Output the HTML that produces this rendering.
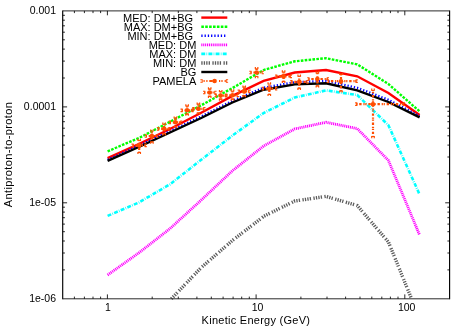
<!DOCTYPE html>
<html><head><meta charset="utf-8"><title>Antiproton-to-proton</title>
<style>html,body{margin:0;padding:0;background:#fff;}body{width:465px;height:326px;overflow:hidden;font-family:"Liberation Sans",sans-serif;}</style>
</head><body>
<svg width="465" height="326" viewBox="0 0 465 326" style="display:block;font-family:'Liberation Sans',sans-serif;font-size:11px">
<rect x="0" y="0" width="465" height="326" fill="#fff"/>
<polyline points="107.6,158.2 138.8,144.2 170.0,129.0 201.2,112.7 232.4,95.9 263.6,80.9 294.8,72.5 326.0,70.0 357.2,76.3 388.4,93.0 419.6,114.9" fill="none" stroke="#ff0000" stroke-width="2.4"/>
<polyline points="107.6,151.3 138.8,138.1 170.0,121.8 201.2,105.3 232.4,88.1 263.6,70.0 294.8,61.3 326.0,58.2 357.2,64.3 388.4,84.0 419.6,111.4" fill="none" stroke="#00ff00" stroke-width="2.4" stroke-dasharray="2.60 1.30"/>
<polyline points="107.6,159.8 138.8,145.8 170.0,131.2 201.2,116.5 232.4,100.9 263.6,87.8 294.8,82.2 326.0,80.9 357.2,87.8 388.4,99.8 419.6,116.2" fill="none" stroke="#0000ff" stroke-width="2.4" stroke-dasharray="1.30 1.95"/>
<polyline points="107.6,275.0 138.8,252.9 170.0,228.6 201.2,200.1 232.4,170.8 263.6,146.0 294.8,128.9 326.0,122.3 357.2,128.6 388.4,160.4 419.6,235.0" fill="none" stroke="#ff00ff" stroke-width="2.8" stroke-dasharray="1.1 0.8"/>
<polyline points="107.6,215.9 138.8,202.5 170.0,184.3 201.2,159.8 232.4,135.6 263.6,113.0 294.8,97.5 326.0,90.4 357.2,95.0 388.4,125.2 419.6,194.5" fill="none" stroke="#00ffff" stroke-width="2.6" stroke-dasharray="3.90 1.30 0.65 1.30"/>
<polyline points="171.3,298.8 201.2,267.6 232.4,240.5 263.6,216.4 294.8,201.0 326.0,196.4 357.2,205.5 388.4,242.0 411.6,298.8" fill="none" stroke="#5c5c5c" stroke-width="3.4" stroke-dasharray="1.3 1.15 1.3 1.15 1.3 1.15 1.3 2.45"/>
<polyline points="107.6,160.8 138.8,147.0 170.0,132.5 201.2,118.0 232.4,102.5 263.6,89.7 294.8,84.4 326.0,83.3 357.2,90.3 388.4,102.0 419.6,117.4" fill="none" stroke="#000" stroke-width="2.4"/>
<path d="M139.2,153.0V139.9M132.6,145.4H145.7M151.9,142.6V130.5M145.7,136.0H157.5M164.1,134.3V123.6M158.1,128.8H169.5M175.4,127.1V117.5M169.8,122.3H181.3M187.1,114.7V105.3M181.6,110.3H192.6M198.4,113.6V103.6M193.3,108.8H204.4M209.7,96.9V88.4M204.1,92.5H215.5M220.7,99.7V91.0M215.5,95.6H226.0M232.5,99.7V90.4M226.2,95.3H238.0M244.2,96.2V86.6M238.7,91.4H249.7M256.6,77.1V68.1M250.4,72.5H262.8M269.3,95.0V83.3M262.8,88.6H276.2M283.6,82.0V71.3M276.2,76.4H290.9M299.2,88.8V75.7M291.3,81.9H307.5M317.4,86.5V72.4M308.3,79.0H327.9M341.0,91.5V74.0M327.9,81.2H356.7M373.0,137.1V89.7M356.2,104.2H404.0" fill="none" stroke="#ff4d00" stroke-width="2.2" stroke-dasharray="1.2 1.8 2.4 1.8 1.2 0.75"/>
<path d="M137.95,138.80v2.2M140.45,138.80v2.2M137.95,151.90v2.2M140.45,151.90v2.2M131.50,144.15h2.2M131.50,146.65h2.2M144.60,144.15h2.2M144.60,146.65h2.2M150.65,129.40v2.2M153.15,129.40v2.2M150.65,141.50v2.2M153.15,141.50v2.2M144.60,134.75h2.2M144.60,137.25h2.2M156.40,134.75h2.2M156.40,137.25h2.2M162.85,122.50v2.2M165.35,122.50v2.2M162.85,133.20v2.2M165.35,133.20v2.2M157.00,127.55h2.2M157.00,130.05h2.2M168.40,127.55h2.2M168.40,130.05h2.2M174.15,116.40v2.2M176.65,116.40v2.2M174.15,126.00v2.2M176.65,126.00v2.2M168.70,121.05h2.2M168.70,123.55h2.2M180.20,121.05h2.2M180.20,123.55h2.2M185.85,104.20v2.2M188.35,104.20v2.2M185.85,113.60v2.2M188.35,113.60v2.2M180.50,109.05h2.2M180.50,111.55h2.2M191.50,109.05h2.2M191.50,111.55h2.2M197.15,102.50v2.2M199.65,102.50v2.2M197.15,112.50v2.2M199.65,112.50v2.2M192.20,107.55h2.2M192.20,110.05h2.2M203.30,107.55h2.2M203.30,110.05h2.2M208.45,87.30v2.2M210.95,87.30v2.2M208.45,95.80v2.2M210.95,95.80v2.2M203.00,91.25h2.2M203.00,93.75h2.2M214.40,91.25h2.2M214.40,93.75h2.2M219.45,89.90v2.2M221.95,89.90v2.2M219.45,98.60v2.2M221.95,98.60v2.2M214.40,94.35h2.2M214.40,96.85h2.2M224.90,94.35h2.2M224.90,96.85h2.2M231.25,89.30v2.2M233.75,89.30v2.2M231.25,98.60v2.2M233.75,98.60v2.2M225.10,94.05h2.2M225.10,96.55h2.2M236.90,94.05h2.2M236.90,96.55h2.2M242.95,85.50v2.2M245.45,85.50v2.2M242.95,95.10v2.2M245.45,95.10v2.2M237.60,90.15h2.2M237.60,92.65h2.2M248.60,90.15h2.2M248.60,92.65h2.2M255.35,67.00v2.2M257.85,67.00v2.2M255.35,76.00v2.2M257.85,76.00v2.2M249.30,71.25h2.2M249.30,73.75h2.2M261.70,71.25h2.2M261.70,73.75h2.2M268.05,82.20v2.2M270.55,82.20v2.2M268.05,93.90v2.2M270.55,93.90v2.2M261.70,87.35h2.2M261.70,89.85h2.2M275.10,87.35h2.2M275.10,89.85h2.2M282.35,70.20v2.2M284.85,70.20v2.2M282.35,80.90v2.2M284.85,80.90v2.2M275.10,75.15h2.2M275.10,77.65h2.2M289.80,75.15h2.2M289.80,77.65h2.2M297.95,74.60v2.2M300.45,74.60v2.2M297.95,87.70v2.2M300.45,87.70v2.2M290.20,80.65h2.2M290.20,83.15h2.2M306.40,80.65h2.2M306.40,83.15h2.2M316.15,71.30v2.2M318.65,71.30v2.2M316.15,85.40v2.2M318.65,85.40v2.2M307.20,77.75h2.2M307.20,80.25h2.2M326.80,77.75h2.2M326.80,80.25h2.2M339.75,72.90v2.2M342.25,72.90v2.2M339.75,90.40v2.2M342.25,90.40v2.2M326.80,79.95h2.2M326.80,82.45h2.2M355.60,79.95h2.2M355.60,82.45h2.2M371.75,88.60v2.2M374.25,88.60v2.2M371.75,136.00v2.2M374.25,136.00v2.2M355.10,102.95h2.2M355.10,105.45h2.2M402.90,102.95h2.2M402.90,105.45h2.2M200.40,79.75h2.2M200.40,82.25h2.2M225.90,79.75h2.2M225.90,82.25h2.2" fill="none" stroke="#ff4d00" stroke-width="1.2"/>
<path d="M137.95,140.65h2.5M137.95,152.25h2.5M133.35,144.15v2.5M144.95,144.15v2.5M150.65,131.25h2.5M150.65,141.85h2.5M146.45,134.75v2.5M156.75,134.75v2.5M162.85,124.35h2.5M162.85,133.55h2.5M158.85,127.55v2.5M168.75,127.55v2.5M174.15,118.25h2.5M174.15,126.35h2.5M170.55,121.05v2.5M180.55,121.05v2.5M185.85,106.05h2.5M185.85,113.95h2.5M182.35,109.05v2.5M191.85,109.05v2.5M197.15,104.35h2.5M197.15,112.85h2.5M194.05,107.55v2.5M203.65,107.55v2.5M208.45,89.15h2.5M208.45,96.15h2.5M204.85,91.25v2.5M214.75,91.25v2.5M219.45,91.75h2.5M219.45,98.95h2.5M216.25,94.35v2.5M225.25,94.35v2.5M231.25,91.15h2.5M231.25,98.95h2.5M226.95,94.05v2.5M237.25,94.05v2.5M242.95,87.35h2.5M242.95,95.45h2.5M239.45,90.15v2.5M248.95,90.15v2.5M255.35,68.85h2.5M255.35,76.35h2.5M251.15,71.25v2.5M262.05,71.25v2.5M268.05,84.05h2.5M268.05,94.25h2.5M263.55,87.35v2.5M275.45,87.35v2.5M282.35,72.05h2.5M282.35,81.25h2.5M276.95,75.15v2.5M290.15,75.15v2.5M297.95,76.45h2.5M297.95,88.05h2.5M292.05,80.65v2.5M306.75,80.65v2.5M316.15,73.15h2.5M316.15,85.75h2.5M309.05,77.75v2.5M327.15,77.75v2.5M339.75,74.75h2.5M339.75,90.75h2.5M328.65,79.95v2.5M355.95,79.95v2.5M371.75,90.45h2.5M371.75,136.35h2.5M356.95,102.95v2.5M403.25,102.95v2.5M202.25,79.75v2.5M226.25,79.75v2.5" fill="none" stroke="#ff4d00" stroke-width="0.9"/>
<path d="M203.5,81.0h1.2M206.3,81.0h1.2M209.3,81.0h3.5M219.0,81.0h1.2M221.4,81.0h1.2M224.60000000000002,81.0h1.2" fill="none" stroke="#ff4d00" stroke-width="2.2"/>
<g fill="#ff4d00"><circle cx="139.2" cy="145.4" r="2.3"/><circle cx="151.9" cy="136" r="2.3"/><circle cx="164.1" cy="128.8" r="2.3"/><circle cx="175.4" cy="122.3" r="2.3"/><circle cx="187.1" cy="110.3" r="2.3"/><circle cx="198.4" cy="108.8" r="2.3"/><circle cx="209.7" cy="92.5" r="2.3"/><circle cx="220.7" cy="95.6" r="2.3"/><circle cx="232.5" cy="95.3" r="2.3"/><circle cx="244.2" cy="91.4" r="2.3"/><circle cx="256.6" cy="72.5" r="2.3"/><circle cx="269.3" cy="88.6" r="2.3"/><circle cx="283.6" cy="76.4" r="2.3"/><circle cx="299.2" cy="81.9" r="2.3"/><circle cx="317.4" cy="79" r="2.3"/><circle cx="341" cy="81.2" r="2.3"/><circle cx="373" cy="104.2" r="2.3"/><circle cx="214.6" cy="81.0" r="2.3"/></g>
<path d="M62.7,10.4V299.3M449.6,10.4V299.3" fill="none" stroke="#000" stroke-width="1.15"/>
<path d="M62.7,10.9H449.6M62.7,298.8H449.6" fill="none" stroke="#2a2a2a" stroke-width="1.0"/>
<path d="M74.4,298.8v-2.2M74.4,10.9v2.2M84.4,298.8v-2.2M84.4,10.9v2.2M93.0,298.8v-2.2M93.0,10.9v2.2M100.6,298.8v-2.2M100.6,10.9v2.2M107.4,298.8v-4.4M107.4,10.9v4.4M152.2,298.8v-2.2M152.2,10.9v2.2M178.3,298.8v-2.2M178.3,10.9v2.2M196.9,298.8v-2.2M196.9,10.9v2.2M211.3,298.8v-2.2M211.3,10.9v2.2M223.1,298.8v-2.2M223.1,10.9v2.2M233.1,298.8v-2.2M233.1,10.9v2.2M241.7,298.8v-2.2M241.7,10.9v2.2M249.3,298.8v-2.2M249.3,10.9v2.2M256.1,298.8v-4.4M256.1,10.9v4.4M300.9,298.8v-2.2M300.9,10.9v2.2M327.0,298.8v-2.2M327.0,10.9v2.2M345.6,298.8v-2.2M345.6,10.9v2.2M360.0,298.8v-2.2M360.0,10.9v2.2M371.8,298.8v-2.2M371.8,10.9v2.2M381.8,298.8v-2.2M381.8,10.9v2.2M390.4,298.8v-2.2M390.4,10.9v2.2M398.0,298.8v-2.2M398.0,10.9v2.2M404.8,298.8v-4.4M404.8,10.9v4.4M62.7,269.9h2.2M449.6,269.9h-2.2M62.7,253.0h2.2M449.6,253.0h-2.2M62.7,241.0h2.2M449.6,241.0h-2.2M62.7,231.7h2.2M449.6,231.7h-2.2M62.7,224.1h2.2M449.6,224.1h-2.2M62.7,217.7h2.2M449.6,217.7h-2.2M62.7,212.1h2.2M449.6,212.1h-2.2M62.7,207.2h2.2M449.6,207.2h-2.2M62.7,202.8h4.4M449.6,202.8h-4.4M62.7,173.9h2.2M449.6,173.9h-2.2M62.7,157.0h2.2M449.6,157.0h-2.2M62.7,145.1h2.2M449.6,145.1h-2.2M62.7,135.8h2.2M449.6,135.8h-2.2M62.7,128.2h2.2M449.6,128.2h-2.2M62.7,121.7h2.2M449.6,121.7h-2.2M62.7,116.2h2.2M449.6,116.2h-2.2M62.7,111.3h2.2M449.6,111.3h-2.2M62.7,106.9h4.4M449.6,106.9h-4.4M62.7,78.0h2.2M449.6,78.0h-2.2M62.7,61.1h2.2M449.6,61.1h-2.2M62.7,49.1h2.2M449.6,49.1h-2.2M62.7,39.8h2.2M449.6,39.8h-2.2M62.7,32.2h2.2M449.6,32.2h-2.2M62.7,25.8h2.2M449.6,25.8h-2.2M62.7,20.2h2.2M449.6,20.2h-2.2M62.7,15.3h2.2M449.6,15.3h-2.2" stroke="#000" stroke-width="0.85" fill="none"/>
<defs><filter id="nf" filterUnits="userSpaceOnUse" x="0" y="0" width="465" height="326"><feOffset dx="0" dy="0"/></filter></defs>
<g filter="url(#nf)" style="will-change:transform">
<text transform="translate(56.0,14.2) scale(0.955,1)" text-anchor="end">0.001</text>
<text transform="translate(56.0,110.2) scale(0.955,1)" text-anchor="end">0.0001</text>
<text transform="translate(56.0,206.1) scale(0.955,1)" text-anchor="end">1e-05</text>
<text transform="translate(56.0,302.1) scale(0.955,1)" text-anchor="end">1e-06</text>
<text transform="translate(108.0,310.9) scale(0.955,1)" text-anchor="middle">1</text>
<text transform="translate(257.6,310.9) scale(0.955,1)" text-anchor="middle">10</text>
<text transform="translate(406.7,310.9) scale(0.955,1)" text-anchor="middle">100</text>
<text x="201.6" y="324.3" textLength="108.4" lengthAdjust="spacing">Kinetic Energy (GeV)</text>
<text transform="translate(12.0,207.2) rotate(-90)" textLength="105" lengthAdjust="spacing">Antiproton-to-proton</text>
<text x="193.1" y="21.6" text-anchor="end">MED: DM+BG</text>
<polyline points="201.3,17.6 227.3,17.6" fill="none" stroke="#ff0000" stroke-width="2.4"/>
<text x="193.1" y="30.7" text-anchor="end">MAX: DM+BG</text>
<polyline points="201.3,26.7 227.3,26.7" fill="none" stroke="#00ff00" stroke-width="2.4" stroke-dasharray="2.60 1.30"/>
<text x="193.1" y="39.7" text-anchor="end">MIN: DM+BG</text>
<polyline points="201.3,35.7 227.3,35.7" fill="none" stroke="#0000ff" stroke-width="2.4" stroke-dasharray="1.30 1.95"/>
<text x="196.3" y="48.8" text-anchor="end">MED: DM</text>
<polyline points="201.3,44.8 227.3,44.8" fill="none" stroke="#ff00ff" stroke-width="2.8" stroke-dasharray="1.1 0.8"/>
<text x="196.3" y="57.9" text-anchor="end">MAX: DM</text>
<polyline points="201.3,53.9 227.3,53.9" fill="none" stroke="#00ffff" stroke-width="2.6" stroke-dasharray="3.90 1.30 0.65 1.30"/>
<text x="196.3" y="67.0" text-anchor="end">MIN: DM</text>
<polyline points="201.3,63.0 227.3,63.0" fill="none" stroke="#5c5c5c" stroke-width="3.4" stroke-dasharray="1.3 1.15 1.3 1.15 1.3 1.15 1.3 2.45"/>
<text x="196.3" y="76.0" text-anchor="end">BG</text>
<polyline points="201.3,72.0 227.3,72.0" fill="none" stroke="#000" stroke-width="2.4"/>
<text x="196.3" y="85.1" text-anchor="end">PAMELA</text>
</g>
</svg>
</body></html>
